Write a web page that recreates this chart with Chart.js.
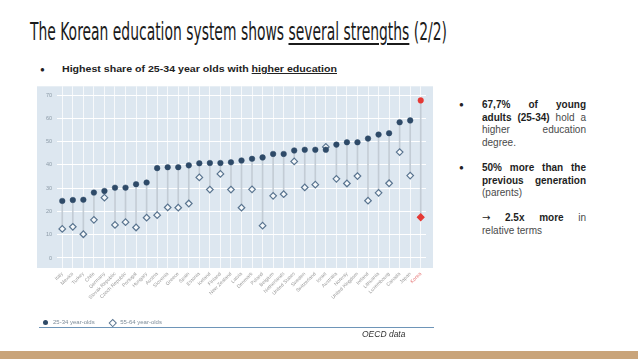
<!DOCTYPE html>
<html><head><meta charset="utf-8">
<script src="https://cdn.jsdelivr.net/npm/chart.js@4.4.1/dist/chart.umd.min.js"></script>
<style>
html,body{margin:0;padding:0;background:#fff;width:638px;height:359px;overflow:hidden;position:relative;font-family:"Liberation Sans",Arial,sans-serif;}
#title{position:absolute;left:30px;top:17px;font-family:"Liberation Sans Narrow","DejaVu Sans Condensed","Liberation Sans",sans-serif;font-size:25px;color:#1b1b1b;white-space:nowrap;transform-origin:0 0;line-height:30px;}
#title u{text-decoration-thickness:1.5px;text-underline-offset:3px;}
#sub{position:absolute;left:40px;top:62px;font-size:9.5px;font-weight:bold;color:#222;white-space:nowrap;line-height:13px;}
#sub .b{display:inline-block;width:22px;font-size:8px;}
#subt{display:inline-block;transform-origin:0 50%;}
#chartbox{position:absolute;left:35px;top:78px;width:400px;height:252px;}
#legend{position:absolute;left:43px;top:318px;font-size:6px;color:#7d8c99;white-space:nowrap;line-height:9px;}
#legend .dot{display:inline-block;width:5px;height:5px;border-radius:50%;background:#2e4a68;vertical-align:middle;margin-right:5px;}
#legend .dia{display:inline-block;width:3.5px;height:3.5px;border:1.1px solid #5a7590;background:#fff;transform:rotate(45deg);vertical-align:middle;margin:0 5px 0 15px;}
#rule{position:absolute;left:39px;top:326.5px;width:395px;height:1.5px;background:#6e95b8;}
#oecd{position:absolute;left:362px;top:329px;font-size:8.5px;font-style:italic;color:#333;}
#band{position:absolute;left:0;top:351px;width:638px;height:8px;background:#c9a47a;}
#right{position:absolute;left:459px;top:99px;font-size:10px;color:#4a4a4a;line-height:12.7px;}
#right .bul{position:absolute;left:0;font-size:8px;color:#222;}
#right .col{position:absolute;left:23px;width:104px;}
#right .j{text-align:justify;text-align-last:justify;white-space:nowrap;}
#right b{color:#1e1e1e;}
#right .arr{font-family:"DejaVu Sans",sans-serif;font-size:10px;color:#222;}
</style></head>
<body>
<div id="title"><span id="tt">The Korean education system shows <u>several strengths</u> (2/2)</span></div>
<div id="sub"><span class="b">●</span><span id="subt">Highest share of 25-34 year olds with <u>higher education</u></span></div>
<div id="chartbox"><canvas id="c" width="400" height="252"></canvas></div>
<div id="legend"><span class="dot"></span>25-34 year-olds<span class="dia"></span>55-64 year-olds</div>
<div id="rule"></div>
<div id="oecd">OECD data</div>
<div id="band"></div>
<div id="right">
  <span class="bul" style="top:0px">●</span>
  <div class="col" style="top:0px">
    <div class="j"><b>67,7% of young</b></div>
    <div class="j"><b>adults (25-34)</b> hold a</div>
    <div class="j">higher education</div>
    <div>degree.</div>
  </div>
  <span class="bul" style="top:63px">●</span>
  <div class="col" style="top:63px">
    <div class="j"><b>50% more than the</b></div>
    <div class="j"><b>previous generation</b></div>
    <div>(parents)</div>
  </div>
  <div class="col" style="top:113px">
    <div class="j"><span class="arr">→</span> <b>2.5x more</b> in</div>
    <div>relative terms</div>
  </div>
</div>
<script>
const countries = ["Italy","Mexico","Turkey","Chile","Germany","Slovak Republic","Czech Republic","Portugal","Hungary","Austria","Slovenia","Greece","Spain","Estonia","Iceland","Finland","New Zealand","Latvia","Denmark","Poland","Belgium","Netherlands","United States","Sweden","Switzerland","Israel","Australia","Norway","United Kingdom","Ireland","Lithuania","Luxembourg","Canada","Japan","Korea"];
const young = [24.5,24.9,25.0,28.1,28.8,30.2,30.2,31.7,32.4,38.6,39.0,39.0,39.8,40.7,40.8,40.8,41.1,41.9,42.6,43.2,44.7,44.7,46.2,46.5,46.5,46.5,48.7,49.7,49.7,51.3,53.0,53.6,58.3,59.1,67.7];
const older = [12.5,13.4,10.2,16.4,25.9,14.2,15.4,13.1,17.3,18.4,21.7,21.6,23.4,34.6,29.4,36.1,29.4,21.6,29.5,13.9,26.7,27.4,41.5,30.3,31.5,47.7,34.0,32.0,35.2,24.6,28.0,32.1,45.5,35.4,17.5];
const yTicks = [0,10,20,30,40,50,60,70];
const highlight = "Korea";

function fit(id, w){const e=document.getElementById(id);const r=e.getBoundingClientRect().width;e.style.display='inline-block';e.style.transform='scaleX('+(w/r)+')';e.style.transformOrigin='0 0';}
fit('tt',417);
fit('subt',275);

const RED='#e53935', NAVY='#2e4a68', DIA='#5a7590';
const isHi = i => countries[i]===highlight;

const bgPlugin={id:'bg',beforeDraw(ch){const {ctx,chartArea:a}=ch;ctx.save();ctx.fillStyle='#dde7f0';ctx.fillRect(2,a.top,a.right+7-2,a.bottom-a.top);ctx.restore();}};

new Chart(document.getElementById('c'),{
  data:{labels:countries,datasets:[
    {type:'bar',label:'gap',data:countries.map((c,i)=>[older[i],young[i]]),backgroundColor:'#c3ccd5',barThickness:1,order:3},
    {type:'line',label:'25-34 year-olds',data:young,showLine:false,pointStyle:'circle',pointRadius:2.8,
      pointBackgroundColor:countries.map((c,i)=>isHi(i)?RED:NAVY),pointBorderColor:countries.map((c,i)=>isHi(i)?RED:NAVY),pointBorderWidth:0.5,order:1},
    {type:'line',label:'55-64 year-olds',data:older,showLine:false,pointStyle:'rectRot',pointRadius:3.3,
      pointBackgroundColor:countries.map((c,i)=>isHi(i)?RED:'#f6f9fb'),pointBorderColor:countries.map((c,i)=>isHi(i)?RED:DIA),pointBorderWidth:1.2,order:2}
  ]},
  options:{responsive:false,animation:false,devicePixelRatio:1,events:[],
    layout:{padding:{left:0,right:9,top:3,bottom:0}},
    plugins:{legend:{display:false},tooltip:{enabled:false}},
    scales:{
      x:{offset:true,grid:{offset:false,color:'rgba(255,255,255,0.75)',lineWidth:1,drawTicks:false},border:{display:false},
        afterFit(s){s.height=62;},
        ticks:{minRotation:45,maxRotation:45,autoSkip:false,padding:3,font:{size:5,family:'Liberation Sans'},
          color:(c)=>isHi(c.index)?'#e57373':'#9a9a9a'}},
      y:{min:-4.3,max:73.75,grid:{color:'#ffffff',lineWidth:1,drawTicks:false},border:{display:false},
        afterFit(s){s.width=22;},
        afterBuildTicks(s){s.ticks=yTicks.map(v=>({value:v}));},
        ticks:{padding:5,font:{size:5.5,family:'Liberation Sans'},color:'#8c9aa7'}}
    }
  },
  plugins:[bgPlugin]
});
</script>
</body></html>
